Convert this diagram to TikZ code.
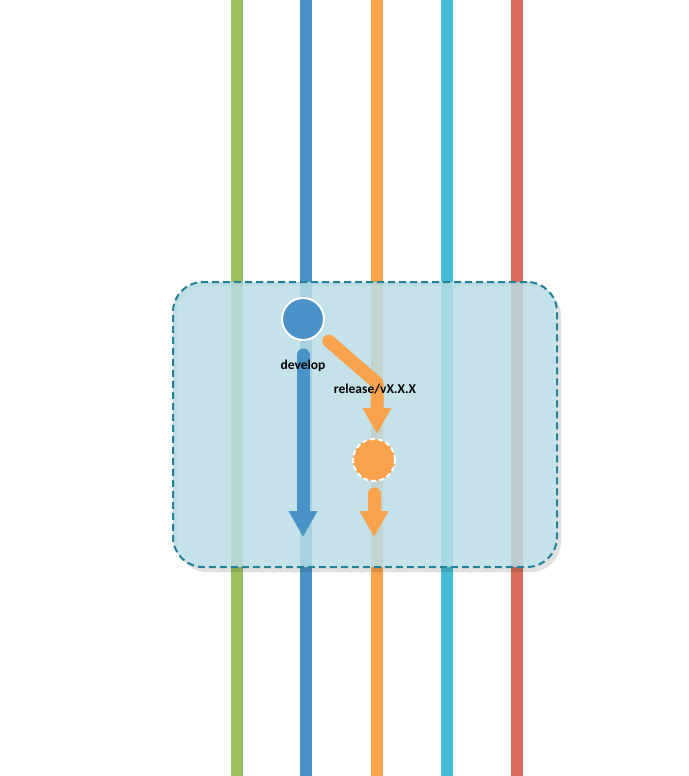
\documentclass[tikz,border=0pt]{standalone}
\usepackage{fontspec}
\setsansfont{Carlito}
\usetikzlibrary{arrows.meta}

\definecolor{lanegreen}{HTML}{9DC05E}
\definecolor{laneblue}{HTML}{4A93C8}
\definecolor{laneorange}{HTML}{FBA24C}
\definecolor{lanecyan}{HTML}{45BCD7}
\definecolor{lanered}{HTML}{DC6A5D}
\definecolor{boxfill}{HTML}{B9DDE6}
\definecolor{boxline}{HTML}{1F8299}

\begin{document}
\begin{tikzpicture}[x=1pt, y=-1pt,
      lane/.style={line width=12pt},
      flow/.style={line width=13pt, line cap=round, line join=round,
        -{Triangle[width=27pt, length=26pt]}},
      commit/.style={circle, minimum size=42pt, inner sep=0pt, line width=2pt, draw=white},
      tag/.style={font=\sffamily\bfseries\fontsize{13.5}{16}\selectfont, text=black}]
      \useasboundingbox (0,0) rectangle (688,776);
      % branch lanes
      \foreach \x/\c in {237/lanegreen, 306/laneblue, 377/laneorange, 447/lanecyan, 517/lanered}
        \draw[lane, \c] (\x,0) -- (\x,776);
      % soft shadow of the box, outside it only
      \fill[black, opacity=0.12, even odd rule, rounded corners=30pt]
        (177,286) rectangle (561,572) (173,282) rectangle (557,567);
      % highlight box
      \node[draw=boxline, dash pattern=on 7pt off 4pt, line width=2pt, rounded corners=30pt,
        fill=boxfill, fill opacity=0.86, minimum width=384pt, minimum height=285pt]
        (stage) at (365,424.5) {};
      % commits
      \node[commit, fill=laneblue] (dev) at (303,319) {};
      \node[commit, fill=laneorange, dash pattern=on 5pt off 3pt] (rel) at (374,460) {};
      \coordinate (devend) at (303,537);
      \coordinate (bend) at (377,383);
      \coordinate (relin) at (377,434);
      \coordinate (relend) at (374,537);
      % flows
      \draw[flow, laneblue] ([yshift=-14pt]dev.south) -- (devend);
      \draw[flow, laneorange] (dev.-40) ++(9,8) -- (bend) -- (relin);
      \draw[flow, laneorange] ([yshift=-12pt]rel.south) -- (relend);
      % labels
      \node[tag] (devlabel) at (303,366) {develop};
      \node[tag] (rellabel) at (375,389) {release/vX.X.X};
    \end{tikzpicture}
\end{document}
